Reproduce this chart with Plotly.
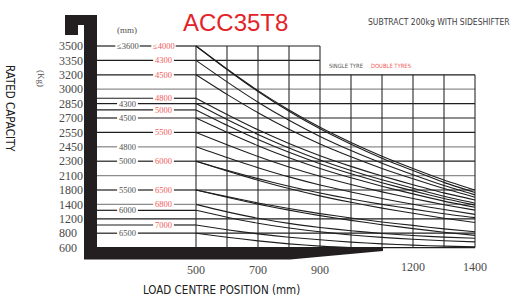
import plotly.graph_objects as go

# ---------------- data ----------------
load_centre_mm = [500, 600, 700, 800, 900, 1000, 1100, 1200, 1300, 1400]
capacity_ticks = ["600", "800", "1200", "1400", "1800", "2100", "2300", "2450",
                  "2550", "2700", "2850", "3000", "3200", "3350", "3500"]
capacity_rows = list(range(15))
x_ticks_near = [500, 700, 900]
x_ticks_far = [1200, 1400]
grid_x_tall = [500, 600, 700, 800, 900]
grid_x_short = [1000, 1100, 1200, 1300, 1400]
grey_rows = [11, 7, 5, 3]

# mast heights (mm) and the capacity row where each curve starts
mast_rows = [14, 13, 12, 10.37, 10, 9.56, 9, 8, 7, 6, 4, 3, 2.59, 1.57, 1]
single_tyre_masts = ["≤3600", "", "", "", "4300", "", "4500", "", "4800", "5000", "5500", "", "6000", "", "6500"]
double_tyre_masts = ["≤4000", "4300", "4500", "4800", "", "5000", "", "5500", "", "6000", "6500", "6800", "", "7000", ""]

# capacity curves (in capacity-row units) against load_centre_mm
d_4000 = [14.0, 12.4, 10.9, 9.55, 8.35, 7.3, 6.35, 5.5, 4.7, 4.0]
s_3600 = [14.0, 12.37, 10.84, 9.47, 8.25, 7.18, 6.21, 5.35, 4.53, 3.82]
d_4300 = [13.0, 11.51, 10.1, 8.84, 7.72, 6.74, 5.86, 5.06, 4.31, 3.66]
d_4500 = [12.0, 10.64, 9.37, 8.22, 7.2, 6.31, 5.5, 4.78, 4.1, 3.5]
d_4800 = [10.37, 9.24, 8.18, 7.23, 6.38, 5.64, 4.97, 4.37, 3.8, 3.31]
s_4300 = [10.0, 8.89, 7.86, 6.92, 6.09, 5.36, 4.71, 4.12, 3.56, 3.08]
d_5000 = [9.56, 8.5, 7.51, 6.62, 5.83, 5.13, 4.5, 3.94, 3.41, 2.95]
s_4500 = [9.0, 8.01, 7.08, 6.24, 5.5, 4.85, 4.26, 3.73, 3.23, 2.8]
d_5500 = [8.0, 7.14, 6.33, 5.6, 4.95, 4.38, 3.87, 3.41, 2.98, 2.6]
s_4800 = [7.0, 6.25, 5.55, 4.91, 4.35, 3.86, 3.41, 3.01, 2.64, 2.31]
d_6000 = [6.0, 5.37, 4.79, 4.26, 3.79, 3.37, 3.0, 2.67, 2.35, 2.08]
s_5000 = [6.0, 5.32, 4.68, 4.1, 3.59, 3.15, 2.74, 2.38, 2.04, 1.74]
d_6500 = [4.0, 3.54, 3.1, 2.71, 2.36, 2.06, 1.78, 1.54, 1.3, 1.1]
s_5500 = [4.0, 3.5, 3.02, 2.6, 2.22, 1.89, 1.59, 1.32, 1.07, 0.85]
d_6800 = [3.0, 2.48, 2.04, 1.68, 1.4, 1.17, 0.98, 0.84, 0.73, 0.65]
s_6000 = [2.59, 2.11, 1.69, 1.36, 1.1, 0.88, 0.71, 0.58, 0.48, 0.4]
d_7000 = [1.57, 1.24, 0.95, 0.72, 0.54, 0.38, 0.26, 0.17, 0.1, 0.05]
s_6500 = [1.0, 0.72, 0.47, 0.26, 0.1, 0.0, None, None, None, None]

curves = [d_4000, s_3600, d_4300, d_4500, d_4800, s_4300, d_5000, s_4500, d_5500,
          s_4800, d_6000, s_5000, d_6500, s_5500, d_6800, s_6000, d_7000, s_6500]

# ---------------- pixel helpers (layout only) ----------------
def px2mm(px):
    return 500 + (px - 196) / 0.31

def py2row(py):
    return (247.6 - py) / 14.4

W, H = 520, 305
LEFT = px2mm(97)
INK = "#1e1e1e"
GREY = "#8c8c8c"
RED = "#f05a5a"
LBL = "#505050"

fig = go.Figure()

def add_lines(segs, color, width):
    xs, ys = [], []
    for xa, ya, xb, yb in segs:
        xs += [xa, xb, None]
        ys += [ya, yb, None]
    fig.add_trace(go.Scatter(x=xs, y=ys, mode="lines", line=dict(color=color, width=width),
                             hoverinfo="skip", showlegend=False))

# grid rows
black_rows, grey_segs = [], []
for r in capacity_rows:
    right = grid_x_tall[-1] if r >= 13 else grid_x_short[-1]
    seg = (grid_x_tall[0], r, right, r)
    (grey_segs if r in grey_rows else black_rows).append(seg)
    if r not in mast_rows:
        (grey_segs if r in grey_rows else black_rows).append((LEFT, r, grid_x_tall[0], r))
add_lines(grey_segs, GREY, 1.3)
add_lines(black_rows, INK, 1.2)

# vertical grid
vsegs = [(v, 0, v, 14) for v in grid_x_tall] + [(v, 0, v, 12) for v in grid_x_short]
add_lines(vsegs, "#2a2a2a", 1.1)

# mast lines on the left with gaps for labels
SCOL, DCOL = 127.5, 163.5
mast_segs_k, mast_segs_g = [], []
annos = []
for r, s, d in zip(mast_rows, single_tyre_masts, double_tyre_masts):
    gaps = []
    for txt, col, colr in ((s, SCOL, LBL), (d, DCOL, RED)):
        if txt:
            half = 1.8 * len(txt) + 3.2
            gaps.append((col - half, col + half))
            annos.append(dict(x=px2mm(col), y=r, xref="x", yref="y", text=txt, showarrow=False,
                              font=dict(family="Liberation Serif", size=8.5, color=colr)))
    pts = [97]
    for a, b in gaps:
        pts += [a, b]
    pts.append(196)
    segs = [(px2mm(pts[i]), r, px2mm(pts[i + 1]), r) for i in range(0, len(pts), 2)]
    (mast_segs_g if r in grey_rows else mast_segs_k).extend(segs)
add_lines(mast_segs_k, INK, 1.2)
add_lines(mast_segs_g, GREY, 1.3)

# capacity curves
for c in curves:
    fig.add_trace(go.Scatter(x=load_centre_mm, y=c, mode="lines",
                             line=dict(color=INK, width=1.1, shape="spline", smoothing=0.6),
                             hoverinfo="skip", showlegend=False, connectgaps=False))

# dummy trace for second x axis
fig.add_trace(go.Scatter(x=[x_ticks_far[0]], y=[None], xaxis="x2", yaxis="y",
                         mode="markers", showlegend=False, hoverinfo="skip"))

# black mast / fork silhouette
poly = [(65, 15), (97, 15), (97, 247.6), (383, 247.6), (383, 251), (290, 259.5),
        (84, 259.5), (84, 25), (78, 25), (78, 35), (65, 35)]
path = "M " + " L ".join(f"{px2mm(a):.3f},{py2row(b):.4f}" for a, b in poly) + " Z"
shapes = [dict(type="path", path=path, xref="x", yref="y", fillcolor="#231f20",
               line=dict(width=0), layer="above")]

def pa(px, py, text, font, **kw):
    d = dict(x=px / W, y=1 - py / H, xref="paper", yref="paper", text=text,
             showarrow=False, font=font, xanchor="center", yanchor="middle")
    d.update(kw)
    return d

COND = "DejaVu Sans Condensed, Liberation Sans Narrow, Liberation Sans"
annos += [
    pa(235, 23, "ACC35T8", dict(family="Liberation Sans", size=24, color="#e32229")),
    pa(438.5, 22, "SUBTRACT 200kg WITH SIDESHIFTER", dict(family=COND, size=8.5, color="#404040")),
    pa(346, 66, "SINGLE TYRE", dict(family=COND, size=5.8, color="#555555")),
    pa(391, 66, "DOUBLE TYRES", dict(family=COND, size=5.8, color=RED)),
    pa(127, 30, "(mm)", dict(family="Liberation Serif", size=9, color=LBL)),
    pa(41, 78, "(Kg)", dict(family="Liberation Serif", size=9, color=LBL), textangle=90),
    pa(10, 108, "RATED CAPACITY", dict(family=COND, size=11.5, color="#202020"), textangle=90),
    pa(221, 290, "LOAD CENTRE POSITION (mm)", dict(family=COND, size=11.5, color="#202020")),
]

xr = [px2mm(0), px2mm(W)]
yr = [py2row(H), py2row(0)]
tickfont = dict(family="Liberation Serif", size=12, color="#4a4a4a")

fig.update_layout(
    width=W, height=H, margin=dict(l=0, r=0, t=0, b=0),
    paper_bgcolor="white", plot_bgcolor="white",
    shapes=shapes, annotations=annos, showlegend=False,
    xaxis=dict(range=xr, showgrid=False, zeroline=False, showline=False, ticks="",
               tickmode="array", tickvals=x_ticks_near, ticktext=[str(v) for v in x_ticks_near],
               ticklabelposition="inside", ticklabelstandoff=26, tickfont=tickfont, fixedrange=True),
    xaxis2=dict(range=xr, overlaying="x", anchor="y", side="bottom", showgrid=False,
                zeroline=False, showline=False, ticks="", tickmode="array", tickvals=x_ticks_far,
                ticktext=[str(v) for v in x_ticks_far], ticklabelposition="inside",
                ticklabelstandoff=29, tickfont=tickfont, fixedrange=True),
    yaxis=dict(range=yr, showgrid=False, zeroline=False, showline=False, ticks="",
               tickmode="array", tickvals=capacity_rows, ticktext=capacity_ticks,
               ticklabelposition="inside", ticklabelstandoff=56, tickfont=tickfont, fixedrange=True),
)

fig.write_html("out.html", config={"displayModeBar": False},
               post_script="document.body.style.margin='0px';document.body.style.overflow='hidden';")
